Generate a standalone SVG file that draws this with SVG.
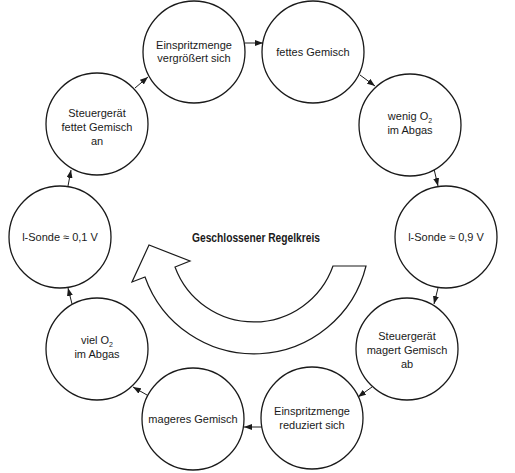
<svg xmlns="http://www.w3.org/2000/svg" width="515" height="473" viewBox="0 0 515 473">
<style>
.node circle{fill:#fff;stroke:#1a1a1a;stroke-width:1.3}
.node text{font-family:"Liberation Sans",Arial,sans-serif;font-size:11px;fill:#1a1a1a;text-anchor:middle}
.sub{font-size:7px}
.conn line{stroke:#1a1a1a;stroke-width:1;marker-end:url(#ah)}
.title{font-family:"Liberation Sans",Arial,sans-serif;font-size:12px;font-weight:bold;fill:#1a1a1a;text-anchor:middle}
</style>
<defs>
<marker id="ah" markerUnits="userSpaceOnUse" markerWidth="8" markerHeight="6" refX="8" refY="3" orient="auto">
<path d="M0,0 L8,3 L0,6 z" fill="#1a1a1a"/>
</marker>
</defs>
<rect width="515" height="473" fill="#fff"/>
<g id="connectors" class="conn">
<line x1="245" y1="43" x2="263" y2="43"/>
<line x1="360" y1="75" x2="375" y2="86"/>
<line x1="434" y1="169" x2="438" y2="186"/>
<line x1="438" y1="288" x2="434" y2="304"/>
<line x1="372" y1="387" x2="358" y2="397"/>
<line x1="262" y1="427" x2="244" y2="427"/>
<line x1="147" y1="395" x2="133" y2="387"/>
<line x1="72" y1="304" x2="68" y2="288"/>
<line x1="68" y1="186" x2="71" y2="170"/>
<line x1="135" y1="88" x2="148" y2="77"/>
</g>
<g id="n1" class="node"><circle cx="194" cy="52" r="51"/><text x="194" y="48.5">Einspritzmenge</text><text x="194" y="61.5">vergrößert sich</text></g>
<g id="n2" class="node"><circle cx="313" cy="52" r="51"/><text x="313" y="56">fettes Gemisch</text></g>
<g id="n3" class="node"><circle cx="410" cy="125" r="51"/><text x="410" y="120">wenig O<tspan class="sub" dy="2.5">2</tspan></text><text x="410" y="134">im Abgas</text></g>
<g id="n4" class="node"><circle cx="446" cy="237" r="51"/><text x="446" y="241">l-Sonde ≈ 0,9 V</text></g>
<g id="n5" class="node"><circle cx="407" cy="349" r="51"/><text x="407" y="340">Steuergerät</text><text x="407" y="354">magert Gemisch</text><text x="407" y="368">ab</text></g>
<g id="n6" class="node"><circle cx="312" cy="418" r="51"/><text x="312" y="415">Einspritzmenge</text><text x="312" y="429">reduziert sich</text></g>
<g id="n7" class="node"><circle cx="193" cy="419" r="51"/><text x="193" y="423">mageres Gemisch</text></g>
<g id="n8" class="node"><circle cx="97" cy="349" r="51"/><text x="97" y="344">viel O<tspan class="sub" dy="2.5">2</tspan></text><text x="97" y="358">im Abgas</text></g>
<g id="n9" class="node"><circle cx="60" cy="237" r="51"/><text x="60" y="241">l-Sonde ≈ 0,1 V</text></g>
<g id="n10" class="node"><circle cx="97" cy="124" r="51"/><text x="97" y="117">Steuergerät</text><text x="97" y="131">fettet Gemisch</text><text x="97" y="145">an</text></g>
<g id="loop">
<path d="M366,266 L333,266 A84,84 0 0 1 175,267 L190,261 L149,245 L132,282 L145,277 A115.5,115.5 0 0 0 366,266 Z" fill="#fff" stroke="#1a1a1a" stroke-width="1.2" stroke-linejoin="miter"/>
<text class="title" x="256" y="242" textLength="128" lengthAdjust="spacingAndGlyphs">Geschlossener Regelkreis</text>
</g>
</svg>
